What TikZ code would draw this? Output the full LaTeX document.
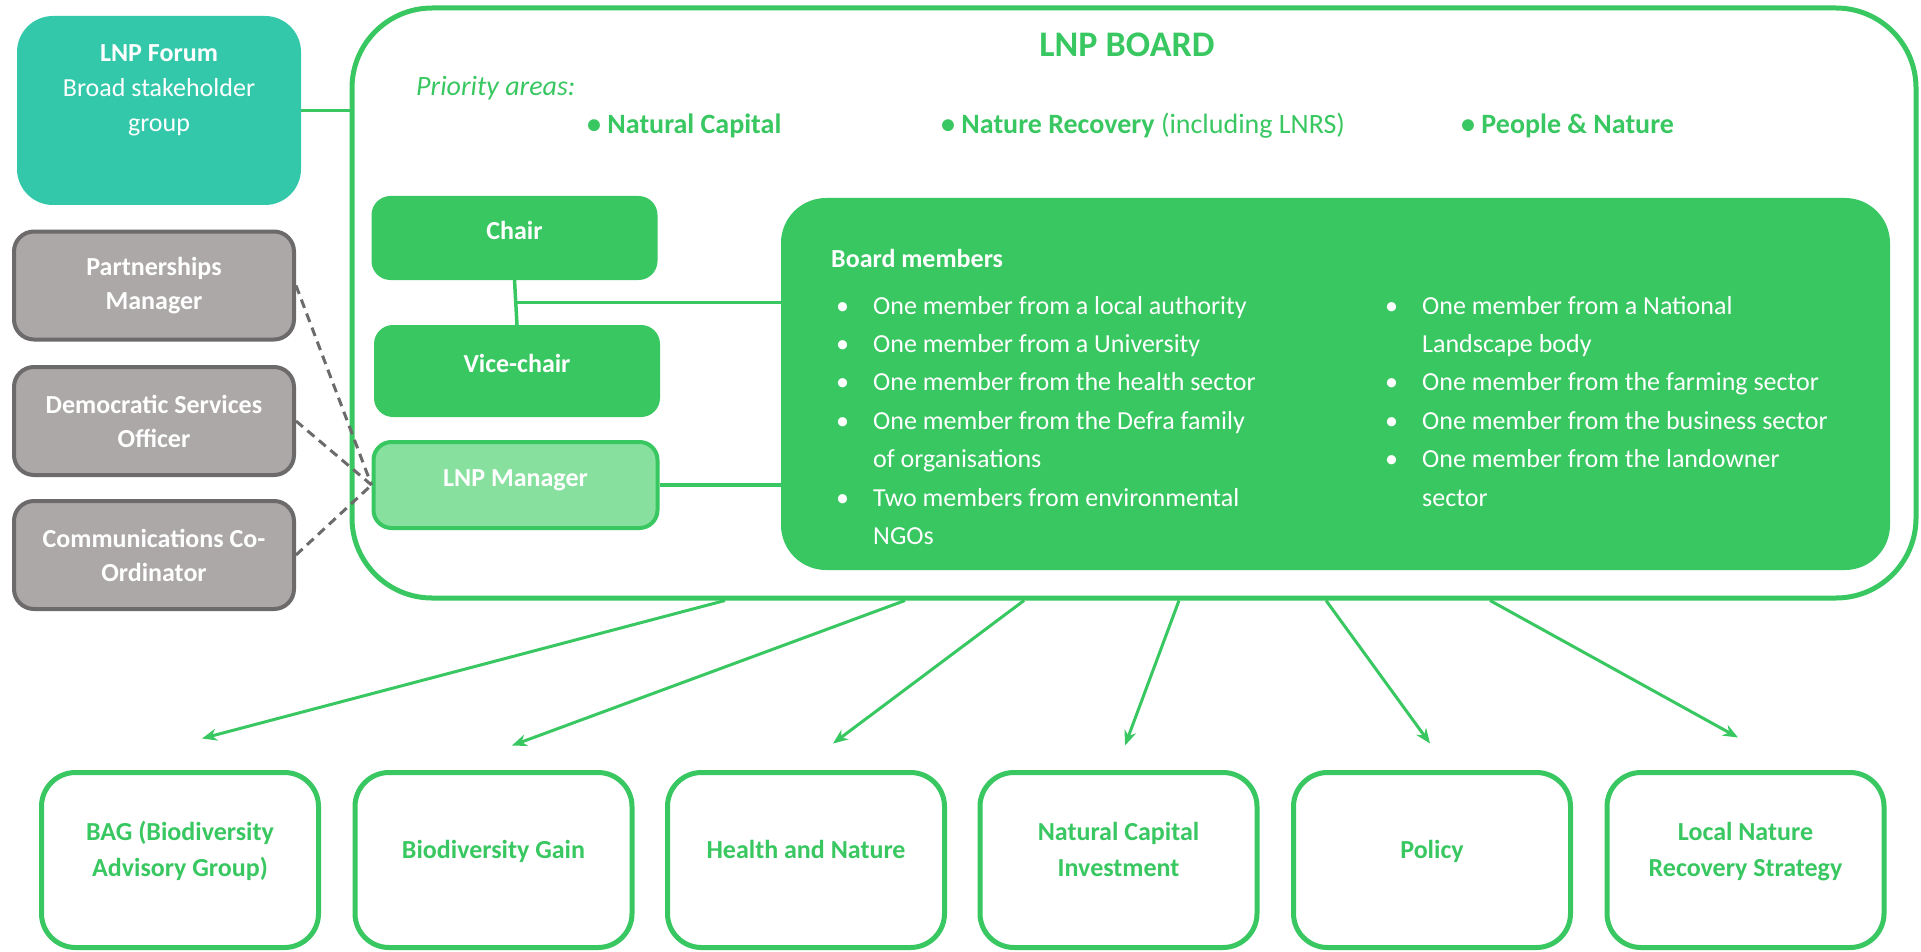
\documentclass[tikz,border=0pt]{standalone}
\usepackage{fontspec}
\setmainfont{Carlito}
\usetikzlibrary{arrows.meta}
\usetikzlibrary{positioning}
\usetikzlibrary{calc}

\definecolor{lnpgreen}{RGB}{56,199,96}
\definecolor{lnpteal}{RGB}{52,200,170}
\definecolor{lnpgrey}{RGB}{171,168,167}
\definecolor{lnpgreyline}{RGB}{108,106,106}
\definecolor{lnplight}{RGB}{136,224,158}

\newcommand{\mitem}{\makebox[37pt][l]{\textbullet}}

\tikzset{
  boardframe/.style={draw=lnpgreen, line width=5pt, rounded corners=80pt, minimum width=1564pt, minimum height=590pt},
  forumbox/.style={fill=lnpteal, rounded corners=36pt, minimum width=284pt, minimum height=189pt},
  staffbox/.style={fill=lnpgrey, draw=lnpgreyline, line width=4pt, rounded corners=20pt, minimum width=280pt, minimum height=108pt, text=white, align=center, font=\bfseries\fontsize{26}{34}\selectfont},
  rolebox/.style={fill=lnpgreen, draw=lnpgreen, line width=2pt, rounded corners=18pt, minimum width=284pt, text=white, font=\bfseries\fontsize{26}{31}\selectfont, text height=18pt, text depth=16pt},
  groupbox/.style={fill=white, draw=lnpgreen, line width=5pt, rounded corners=34pt, minimum width=277pt, minimum height=175pt, text=lnpgreen, align=center, font=\bfseries\fontsize{26}{36}\selectfont, text depth=22pt},
  prioitem/.style={anchor=base west, inner sep=0pt, text=lnpgreen, font=\bfseries\fontsize{28}{34}\selectfont},
  memcol/.style={anchor=base west, inner sep=0pt, text=white, font=\fontsize{26}{38.4}\selectfont},
  conn/.style={draw=lnpgreen, line width=3.5pt},
  dashline/.style={draw=lnpgreyline, line width=3pt, dash pattern=on 9pt off 6pt},
  arrowline/.style={draw=lnpgreen, line width=3pt, ->},
  >={Stealth[length=15pt,width=12pt]},
}

\begin{document}
\begin{tikzpicture}[x=1pt,y=-1pt]
  \useasboundingbox (0,0) rectangle (1921,952);

  % board frame and headings
  \node[boardframe] (board) at (1134,303) {};
  \node[text=lnpgreen, font=\bfseries\fontsize{36}{43}\selectfont] (title) at (1127,45) {LNP BOARD};
  \node[anchor=base west, inner sep=0pt, text=lnpgreen, font=\itshape\fontsize{28}{34}\selectfont] (prio) at (416,96) {Priority areas:};
  \node[prioitem] (prio1) at (587,134) {\textbullet\ Natural Capital};
  \node[prioitem] (prio2) at (941,134) {\textbullet\ Nature Recovery \textmd{(including LNRS)}};
  \node[prioitem] (prio3) at (1461,134) {\textbullet\ People \& Nature};

  % forum
  \node[forumbox] (forum) at (159,110.5) {};
  \node[anchor=base, inner sep=0pt, text=white, font=\fontsize{26}{35}\selectfont] (forumtxt) at (159,61.4)
    {\begin{tabular}[t]{@{}c@{}}\textbf{LNP Forum}\\Broad stakeholder\\group\end{tabular}};

  % staff
  \node[staffbox] (pm) at (154,285.5) {Partnerships\\Manager};
  \node[staffbox] (dso) at (154,421) {Democratic Services\\Officer};
  \node[staffbox] (comms) at (154,555) {Communications Co-\\Ordinator};

  % roles
  \node[rolebox, minimum height=82pt] (chair) at (514.5,238) {Chair};
  \node[rolebox, minimum height=90pt] (vice) at (517,371) {Vice-chair};
  \node[rolebox, minimum height=86pt, fill=lnplight, line width=4pt] (mgr) at (515.5,485) {LNP Manager};

  % board members
  \node[fill=lnpgreen, rounded corners=45pt, minimum width=1109pt, minimum height=372pt] (members) at (1335.5,384) {};
  \node[anchor=base west, inner sep=0pt, text=white, font=\bfseries\fontsize{26}{31}\selectfont] (memtitle) at (831,267) {Board members};
  \node[memcol] (col1) at (836,314) {\begin{tabular}[t]{@{}l@{}}
      \mitem One member from a local authority\\
      \mitem One member from a University\\
      \mitem One member from the health sector\\
      \mitem One member from the Defra family\\
      \hspace*{37pt}of organisations\\
      \mitem Two members from environmental\\
      \hspace*{37pt}NGOs
    \end{tabular}};
  \node[memcol] (col2) at (1385,314) {\begin{tabular}[t]{@{}l@{}}
      \mitem One member from a National\\
      \hspace*{37pt}Landscape body\\
      \mitem One member from the farming sector\\
      \mitem One member from the business sector\\
      \mitem One member from the landowner\\
      \hspace*{37pt}sector
    \end{tabular}};

  % connectors
  \draw[conn] (forum.east) -- (forum.east -| board.west);
  \draw[conn] (chair.south) -- (vice.north);
  \coordinate (junc) at ($(chair.south)!0.5!(vice.north)$);
  \draw[conn] (junc) -- (junc -| members.west);
  \draw[conn] (mgr.east) -- (mgr.east -| members.west);
  \foreach \s in {pm,dso,comms}
    \draw[dashline] (\s.east) -- (mgr.west);

  % working groups
  \foreach \name/\x/\txt in {bag/180/{BAG (Biodiversity\\Advisory Group)}, gain/493.5/{Biodiversity Gain},
      health/806/{Health and Nature}, capital/1118.5/{Natural Capital\\Investment},
      policy/1432/{Policy}, lnrs/1745.5/{Local Nature\\Recovery Strategy}}
    \node[groupbox] (\name) at (\x,860) {\txt};

  \foreach \dx/\name/\tx/\ty in {-409/bag/22/31.5, -229/gain/18.5/24.5, -110/health/27/26.5,
      45/capital/6.5/24.5, 192/policy/-2/26.5, 356/lnrs/-7.5/32.5}
    \draw[arrowline] ([xshift=\dx pt]board.south) -- ([xshift=\tx pt, yshift=\ty pt]\name.north);
\end{tikzpicture}
\end{document}
